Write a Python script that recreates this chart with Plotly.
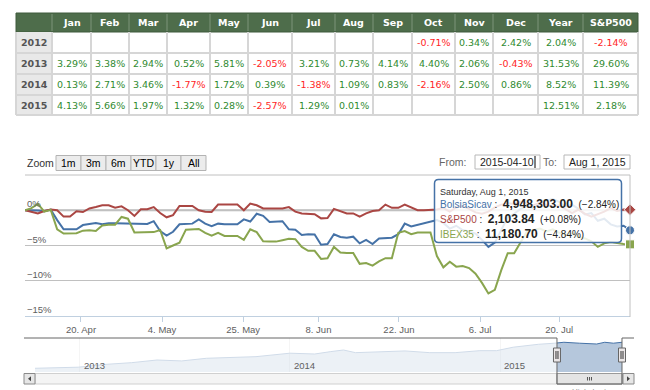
import plotly.graph_objects as go
from datetime import date

W, H = 650, 390
OFF = 8  # page body margin offset


def px(x):
    return (x - OFF) / W


def py(y):
    return 1 - (y - OFF) / H


# ---------------- table data ----------------
months = ["Jan", "Feb", "Mar", "Apr", "May", "Jun", "Jul", "Aug", "Sep", "Oct", "Nov", "Dec"]
table_years = ["2012", "2013", "2014", "2015"]
ret_2012 = [None, None, None, None, None, None, None, None, None, -0.71, 0.34, 2.42]
ret_2013 = [3.29, 3.38, 2.94, 0.52, 5.81, -2.05, 3.21, 0.73, 4.14, 4.40, 2.06, -0.43]
ret_2014 = [0.13, 2.71, 3.46, -1.77, 1.72, 0.39, -1.38, 1.09, 0.83, -2.16, 2.50, 0.86]
ret_2015 = [4.13, 5.66, 1.97, 1.32, 0.28, -2.57, 1.29, 0.01, None, None, None, None]
year_total = [2.04, 31.53, 8.52, 12.51]
sp500_total = [-2.14, 29.60, 11.39, 2.18]

# ---------------- chart data (% change since 2015-04-10) ----------------
bolsia_pct = [0, 0.0, -0.05, -0.15, 0.1, -1.4, -2.7, -2.7, -2.7, -2.1,
              -1.9, -1.8, -2.0, -1.85, -1.85, -1.85, -1.85, -1.85, -1.85, -1.95,
              -1.55, -2.95, -3.6, -3.05, -2.0, -2.0, -1.9, -1.3, -1.9, -2.25,
              -1.9, -2.0, -2.0, -2.0, -1.3, -1.6, -0.5, -0.8, -1.65, -1.6,
              -1.55, -2.7, -2.75, -3.5, -3.4, -3.45, -4.9, -4.8, -3.4, -3.8,
              -3.9, -3.75, -4.7, -4.2, -4.8, -4.0, -3.9, -3.9, -3.4, -1.9,
              -2.3, -2.1, -1.9, -1.7, -1.4, -1.8, -2.6, -2.2, -2.8, -3.0,
              -3.3, -4.2, -5.2, -4.6, -2.8, -1.0, -0.5, 0.2, 0.6, 0.3,
              0.9, 1.4, 1.6, 1.2, 0.5, 0.8, 0.2, -0.6, -0.4, -1.5,
              -1.2, -2.0, -2.3, -2.2, -2.84]
sp500_pct = [0, -0.2, -0.45, -0.1, 0.1, 0.0, -0.9, -0.9, -0.15, -0.25,
             0.25, 0.45, 0.7, 0.7, 0.35, 0.55, 0.0, -0.8, 0.15, 0.15,
             0.45, -0.4, -1.0, -0.7, 0.6, 0.6, 0.6, 0.0, -0.2, -0.25,
             0.8, 0.8, 0.8, 0.8, 0.0, 0.95, 0.7, 0.25, 0.25, 0.3,
             0.25, 0.45, -0.2, -0.45, -0.45, -0.55, -1.15, -1.1, 0.2, -0.15,
             -0.45, -0.45, -0.9, -0.45, -0.1, 0.0, 0.8, 0.35, 0.35, 0.8,
             0.45, 0.0, 0.0, 0.0, 0.1, 0.3, -0.2, 0.4, 0.6, 0.2,
             -0.3, -0.5, -0.2, 0.4, 0.8, 1.0, 0.9, 1.2, 1.0, 0.7,
             1.1, 0.8, 0.5, 0.7, 0.2, -0.4, 0.1, -0.5, -0.9, -0.6,
             -0.2, 0.3, -0.1, 0.1, 0.08]
ibex_pct = [0, 0.3, 0.9, -0.2, 0.05, -2.7, -3.3, -3.3, -3.25, -2.9,
            -2.85, -2.95, -2.15, -2.05, -2.05, -0.95, -1.2, -3.15, -3.15, -3.15,
            -3.1, -2.8, -5.4, -5.0, -4.6, -2.75, -2.65, -2.65, -3.2, -3.6,
            -3.2, -3.65, -3.65, -3.65, -4.2, -2.7, -3.1, -4.4, -4.45, -4.45,
            -4.25, -4.05, -4.1, -5.2, -5.75, -5.75, -6.9, -6.8, -5.2, -6.0,
            -6.07, -6.07, -7.6, -7.5, -7.85, -7.25, -6.8, -6.8, -3.2, -2.95,
            -3.4, -3.15, -3.15, -3.15, -6.5, -8.1, -7.3, -8.0, -7.9, -8.2,
            -9.0, -10.3, -11.8, -11.3, -8.5, -6.1, -6.1, -4.6, -3.0, -2.8,
            -2.6, -3.0, -2.7, -3.2, -3.5, -3.3, -3.8, -4.0, -4.4, -5.2,
            -4.7, -4.5, -4.7, -4.8, -4.84]
series_names = ["BolsiaSicav", "S&P500", "IBEX35"]
series_last_values = [4948303.00, 2103.84, 11180.70]
x_tick_pos = [8.7, 21.3, 33.9, 45.6, 58.1, 70.7, 83.0]
x_tick_labels = ["20. Apr", "4. May", "25. May", "8. Jun", "22. Jun", "6. Jul", "20. Jul"]
y_ticks = [0, -5, -10, -15]

# navigator (fund value, millions)
nav_dates = ["2012-10-15", "2012-12-29", "2013-02-17", "2013-04-01", "2013-05-15", "2013-06-27",
             "2013-08-09", "2013-09-21", "2013-11-03", "2014-01-01", "2014-02-13", "2014-03-13",
             "2014-04-04", "2014-04-25", "2014-06-07", "2014-07-20", "2014-09-01", "2014-10-15",
             "2014-11-27", "2014-12-26", "2015-01-24", "2015-03-09", "2015-04-06", "2015-04-22",
             "2015-05-19", "2015-06-18", "2015-07-02", "2015-07-17", "2015-08-01"]
nav_values = [3.00, 3.08, 3.30, 3.42, 3.62, 3.55, 3.75, 3.83, 3.87, 4.13, 4.07, 4.25,
              4.37, 4.17, 4.25, 4.30, 4.17, 4.17, 4.32, 4.32, 4.58, 4.80, 4.88, 4.95,
              4.88, 4.82, 4.95, 4.88, 4.95]
nav_year_ticks = ["2013-01-01", "2014-01-01", "2015-01-01"]
nav_year_labels = ["2013", "2014", "2015"]
range_buttons = ["1m", "3m", "6m", "YTD", "1y", "All"]
selected_from = "2015-04-10"
selected_to = "2015-08-01"

# ---------------- styles ----------------
COLORS = ["#4572A7", "#AA4643", "#89A54E"]
SYMBOLS = ["circle", "diamond", "square"]
GREEN_TXT = "#2f8a2f"
RED_TXT = "#ff2626"
HEADER_GREEN = "#4e6d4b"
CHART_FONT = "Liberation Sans, Arial, sans-serif"
TABLE_FONT = "DejaVu Sans, Verdana, sans-serif"

fig = go.Figure()
shapes = []
ann = []


def rect(x0, y0, x1, y1, fill, line="rgba(0,0,0,0)", lw=1, layer="above"):
    shapes.append(dict(type="rect", xref="paper", yref="paper", x0=px(x0), x1=px(x1),
                       y0=py(y1), y1=py(y0), fillcolor=fill, line=dict(color=line, width=lw),
                       layer=layer))


def line(x0, y0, x1, y1, color, lw=1, layer="above"):
    shapes.append(dict(type="line", xref="paper", yref="paper", x0=px(x0), x1=px(x1),
                       y0=py(y0), y1=py(y1), line=dict(color=color, width=lw), layer=layer))


def text(x, y, s, size=10, color="#333", xanchor="left", yanchor="middle", family=CHART_FONT):
    ann.append(dict(x=px(x), y=py(y), xref="paper", yref="paper", text=s, showarrow=False,
                    xanchor=xanchor, yanchor=yanchor,
                    font=dict(family=family, size=size, color=color)))


# ---------------- table (drawn as cells) ----------------
col_edges = [16, 52, 91, 129, 167, 210, 248, 292, 335, 373, 412, 455, 493, 538, 583, 638]
row_edges = [13, 32, 53, 74, 95, 115]
rows = [r + [t, s] for r, t, s in zip([ret_2012, ret_2013, ret_2014, ret_2015], year_total, sp500_total)]
header_vals = months + ["Year", "S&P500"]

rect(col_edges[0], row_edges[0], col_edges[-1], row_edges[1], HEADER_GREEN, "#3f5a3d", 1)
for xe in col_edges[1:-1]:
    line(xe, row_edges[0] + 1, xe, row_edges[1] - 1, "#7d957a", 1)
rect(col_edges[0], row_edges[1], col_edges[1], row_edges[-1], "#e8e8e8")
for ye in row_edges[2:]:
    line(col_edges[0], ye, col_edges[-1], ye, "#d6d6d6", 2)
for xe in col_edges:
    line(xe, row_edges[1], xe, row_edges[-1], "#d6d6d6", 2)

for j, h in enumerate(header_vals):
    text((col_edges[j + 1] + col_edges[j + 2]) / 2, (row_edges[0] + row_edges[1]) / 2 + 0.5,
         "<b>%s</b>" % h, size=9.5, color="white", xanchor="center", family=TABLE_FONT)
for i, (yr, r) in enumerate(zip(table_years, rows)):
    yc = (row_edges[i + 1] + row_edges[i + 2]) / 2
    text((col_edges[0] + col_edges[1]) / 2, yc, "<b>%s</b>" % yr, size=9.5, color="#555555",
         xanchor="center", family=TABLE_FONT)
    for j, v in enumerate(r):
        if v is None:
            continue
        text((col_edges[j + 1] + col_edges[j + 2]) / 2, yc, "%.2f%%" % v, size=9.5,
             color=RED_TXT if v < 0 else GREEN_TXT, xanchor="center", family=TABLE_FONT)

# ---------------- main series ----------------
idx = list(range(len(bolsia_pct)))
all_pct = [bolsia_pct, sp500_pct, ibex_pct]
for name, vals, c in zip(series_names, all_pct, COLORS):
    fig.add_trace(go.Scatter(x=idx, y=vals, mode="lines", name=name,
                             line=dict(color=c, width=2), xaxis="x", yaxis="y",
                             hoverinfo="skip", showlegend=False))
for vals, c, s in zip(all_pct, COLORS, SYMBOLS):
    fig.add_trace(go.Scatter(x=[idx[-1]], y=[vals[-1]], mode="markers",
                             marker=dict(symbol=s, size=9, color=c,
                                         line=dict(color="white", width=1)),
                             xaxis="x", yaxis="y", cliponaxis=False,
                             hoverinfo="skip", showlegend=False))

# ---------------- navigator series ----------------
fig.add_trace(go.Scatter(x=nav_dates, y=nav_values, mode="lines", fill="tozeroy",
                         fillcolor="rgba(69,114,167,0.4)", line=dict(color="#4572A7", width=1),
                         xaxis="x2", yaxis="y2", hoverinfo="skip", showlegend=False))

NAV_L, NAV_R = 35, 622
NAV_T, NAV_B = 338, 372
SB_T, SB_B = 373.5, 384


def nav_px(dstr):
    d = date.fromisoformat(dstr)
    d0 = date.fromisoformat(nav_dates[0])
    d1 = date.fromisoformat(nav_dates[-1])
    return NAV_L + (d - d0).days / (d1 - d0).days * (NAV_R - NAV_L)


sel0, sel1 = nav_px(selected_from), nav_px(selected_to)

# zero plot line
shapes.append(dict(type="line", xref="paper", yref="y", x0=px(25), x1=px(630), y0=0, y1=0,
                   line=dict(color="#b8b8b8", width=2), layer="between"))
# right border & top
line(630, 175, 630, 317, "#C0C0C0")
line(25, 175, 630, 175, "#C0C0C0")

# y labels
for v in y_ticks:
    lab = ("%d%%" % v).replace("-", "\u2212")
    ann.append(dict(x=px(25), y=v, xref="paper", yref="y", text=lab, showarrow=False,
                    xanchor="left", yanchor="bottom", yshift=-1,
                    font=dict(family=CHART_FONT, size=9.5, color="#606060")))

# mask over unselected navigator range
rect(NAV_L, NAV_T, sel0, NAV_B, "rgba(255,255,255,0.75)", lw=0)
# navigator year labels
for t, lab in zip(nav_year_ticks, nav_year_labels):
    text(nav_px(t) + 2, 365, lab, size=9.5, color="#606060")

# scrollbar
rect(NAV_L, SB_T, NAV_R + 1, SB_B, "#f4f4f4", "#d0d0d0")
rect(sel0, SB_T, sel1, SB_B, "#e4e4e4", "#9a9a9a")
for dx in (-2, 0, 2):
    line((sel0 + sel1) / 2 + dx, SB_T + 3.5, (sel0 + sel1) / 2 + dx, SB_B - 3.5, "#555", 1)
rect(24, SB_T, NAV_L, SB_B, "#e6e6e6", "#8a8a8a")
rect(NAV_R + 1, SB_T, 634, SB_B, "#e6e6e6", "#8a8a8a")
cy = (SB_T + SB_B) / 2
shapes.append(dict(type="path", xref="paper", yref="paper",
                   path="M %f %f L %f %f L %f %f Z" % (px(28), py(cy), px(31), py(cy - 2.5), px(31), py(cy + 2.5)),
                   fillcolor="#444", line=dict(width=0), layer="above"))
shapes.append(dict(type="path", xref="paper", yref="paper",
                   path="M %f %f L %f %f L %f %f Z" % (px(630), py(cy), px(627), py(cy - 2.5), px(627), py(cy + 2.5)),
                   fillcolor="#444", line=dict(width=0), layer="above"))

# navigator outline
outline = [(24, NAV_T), (sel0, NAV_T), (sel0, SB_B), (sel1, SB_B), (sel1, NAV_T), (634, NAV_T)]
path = "M " + " L ".join("%f %f" % (px(a), py(b)) for a, b in outline)
shapes.append(dict(type="path", xref="paper", yref="paper", path=path,
                   line=dict(color="#666", width=1), layer="above"))
# handles
hy0, hy1 = 348, 362
for hx in (sel0, sel1):
    rect(hx - 3.5, hy0, hx + 3.5, hy1, "#ebe7e8", "#666")
    line(hx - 1, hy0 + 3, hx - 1, hy1 - 3, "#333")
    line(hx + 1, hy0 + 3, hx + 1, hy1 - 3, "#333")

# range selector
text(25, 163, "Zoom", size=10.5, color="#333")
bx0, bw = 56, 25
for k, lab in enumerate(range_buttons):
    rect(bx0 + k * bw, 155.5, bx0 + (k + 1) * bw, 170.5, "#ececec", "#b3b3b3")
    text(bx0 + k * bw + bw / 2, 163, lab, size=10.5, color="#000", xanchor="center")

# input boxes
text(468, 162, "From:", size=10.5, color="#666", xanchor="right")
rect(475, 155, 540, 169, "white", "#b8b8b8")
text(507, 162, selected_from, size=10.5, color="#222", xanchor="center")
line(535, 156, 535, 168, "#000")
text(559, 162, "To:", size=10.5, color="#666", xanchor="right")
rect(564, 155, 630, 169, "white", "#b8b8b8")
to_d = date.fromisoformat(selected_to)
text(597, 162, "%s %d, %d" % (to_d.strftime("%b"), to_d.day, to_d.year), size=10.5, color="#222",
     xanchor="center")

# tooltip
tx0, ty0, tx1, ty1, r = 434.5, 179.5, 621.5, 242.5, 4
rx, ry = r / W, r / H
p = ("M %f %f L %f %f Q %f %f %f %f L %f %f Q %f %f %f %f L %f %f Q %f %f %f %f L %f %f Q %f %f %f %f Z" % (
    px(tx0) + rx, py(ty0), px(tx1) - rx, py(ty0), px(tx1), py(ty0), px(tx1), py(ty0) - ry,
    px(tx1), py(ty1) + ry, px(tx1), py(ty1), px(tx1) - rx, py(ty1),
    px(tx0) + rx, py(ty1), px(tx0), py(ty1), px(tx0), py(ty1) + ry,
    px(tx0), py(ty0) - ry, px(tx0), py(ty0), px(tx0) + rx, py(ty0)))
shapes.append(dict(type="path", xref="paper", yref="paper", path=p,
                   fillcolor="rgba(255,255,255,0.85)", line=dict(color="#4572A7", width=1.5),
                   layer="above"))
text(438, 192, "%s, %s %d, %d" % (to_d.strftime("%A"), to_d.strftime("%b"), to_d.day, to_d.year),
     size=9, color="#333")
row_y = [204, 219, 233.5]
for name, c, val, vals, yy in zip(series_names, COLORS, series_last_values, all_pct, row_y):
    pct = ("%+.2f%%" % vals[-1]).replace("-", "\u2212")
    s = ("<span style='color:%s'>%s</span>\u00a0:\u00a0 <b><span style='font-size:12px'>%s</span></b>"
         "\u00a0 (%s)" % (c, name, "{:,.2f}".format(val), pct))
    text(438, yy, s, size=10, color="#222")

# credits
text(630, 384.5, "Highcharts.com", size=8, color="#909090", xanchor="right", yanchor="top")

fig.update_layout(
    width=W, height=H, margin=dict(l=0, r=0, t=0, b=0),
    paper_bgcolor="white", plot_bgcolor="white", showlegend=False, hovermode=False,
    xaxis=dict(domain=[px(25), px(630)], range=[0, len(idx) - 1], anchor="y",
               showgrid=False, zeroline=False, showline=True, linecolor="#C0D0E0", linewidth=1,
               ticks="outside", ticklen=5, tickcolor="#C0D0E0",
               tickvals=x_tick_pos, ticktext=x_tick_labels,
               tickfont=dict(family=CHART_FONT, size=9.5, color="#606060")),
    yaxis=dict(domain=[py(316), py(175)], range=[-15, 5], anchor="x",
               tickvals=[5] + y_ticks, showticklabels=False, showgrid=True,
               gridcolor="#C0C0C0", gridwidth=1, zeroline=False, showline=False, ticks=""),
    xaxis2=dict(domain=[px(NAV_L), px(NAV_R)], anchor="y2", type="date",
                range=[nav_dates[0], nav_dates[-1]], showgrid=True, gridcolor="#d8d8d8",
                tickvals=nav_year_ticks, showticklabels=False, ticks="", zeroline=False,
                showline=False),
    yaxis2=dict(domain=[py(NAV_B), py(NAV_T)], anchor="x2", range=[2.72, 5.27],
                visible=False, showgrid=False),
    shapes=shapes, annotations=ann,
)

fig.write_html("out.html")
